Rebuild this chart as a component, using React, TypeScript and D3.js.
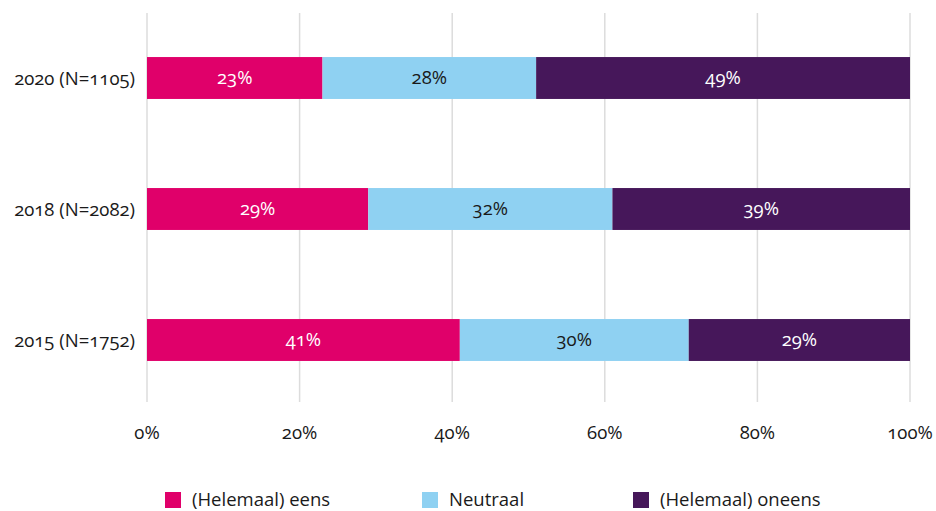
import React from 'react';
import * as d3 from 'd3';

const years = ['2020 (N=1105)', '2018 (N=2082)', '2015 (N=1752)'];
const seriesNames = ['(Helemaal) eens', 'Neutraal', '(Helemaal) oneens'];
const eens = [23, 29, 41];
const neutraal = [28, 32, 30];
const oneens = [49, 39, 29];
const ticks = [0, 20, 40, 60, 80, 100];

const colors = ['#E0006A', '#8FD1F2', '#46175A'];
const labelColors = ['#ffffff', '#1a1a1a', '#ffffff'];

const font = '"Open Sans", Lato, sans-serif';

export default function App() {
  const width = 936;
  const height = 511;

  const x = d3.scaleLinear().domain([0, 100]).range([147, 910]);
  const y = d3.scaleBand<string>()
    .domain(years)
    .range([12.5, 405.5])
    .paddingInner(0.68)
    .paddingOuter(0.34);

  const rows = years.map((year, i) => ({ year, values: [eens[i], neutraal[i], oneens[i]] }));
  const stack = rows.map(r => {
    let acc = 0;
    return r.values.map(v => {
      const s = { x0: acc, x1: acc + v, v };
      acc += v;
      return s;
    });
  });

  const legendX = [165, 422, 633];

  return (
    <svg width={width} height={height} style={{ position: 'absolute', left: 0, top: 0, fontFamily: font, fontVariantNumeric: 'oldstyle-nums' }}>
      <rect width={width} height={height} fill="#ffffff" />
      {ticks.map(t => (
        <g key={t}>
          <line x1={x(t)} x2={x(t)} y1={13} y2={402} stroke="#dcdcdc" strokeWidth={1.5} />
          <text x={x(t)} y={439} textAnchor="middle" fontSize={18.5} fill="#1a1a1a">{t}%</text>
        </g>
      ))}
      {rows.map((r, i) => (
        <g key={r.year}>
          <text x={135} y={(y(r.year) || 0) + y.bandwidth() / 2 + 7} textAnchor="end" fontSize={18.5} fill="#1a1a1a">{r.year}</text>
          {stack[i].map((s, j) => (
            <g key={j}>
              <rect x={x(s.x0)} y={y(r.year)} width={x(s.x1) - x(s.x0)} height={y.bandwidth()} fill={colors[j]} />
              <text x={(x(s.x0) + x(s.x1)) / 2} y={(y(r.year) || 0) + y.bandwidth() / 2 + 6} textAnchor="middle" fontSize={18.5} fill={labelColors[j]}>{s.v}%</text>
            </g>
          ))}
        </g>
      ))}
      {seriesNames.map((n, i) => (
        <g key={n}>
          <rect x={legendX[i]} y={492} width={16} height={16} fill={colors[i]} />
          <text x={legendX[i] + 27} y={506} fontSize={18.5} fill="#1a1a1a">{n}</text>
        </g>
      ))}
    </svg>
  );
}
